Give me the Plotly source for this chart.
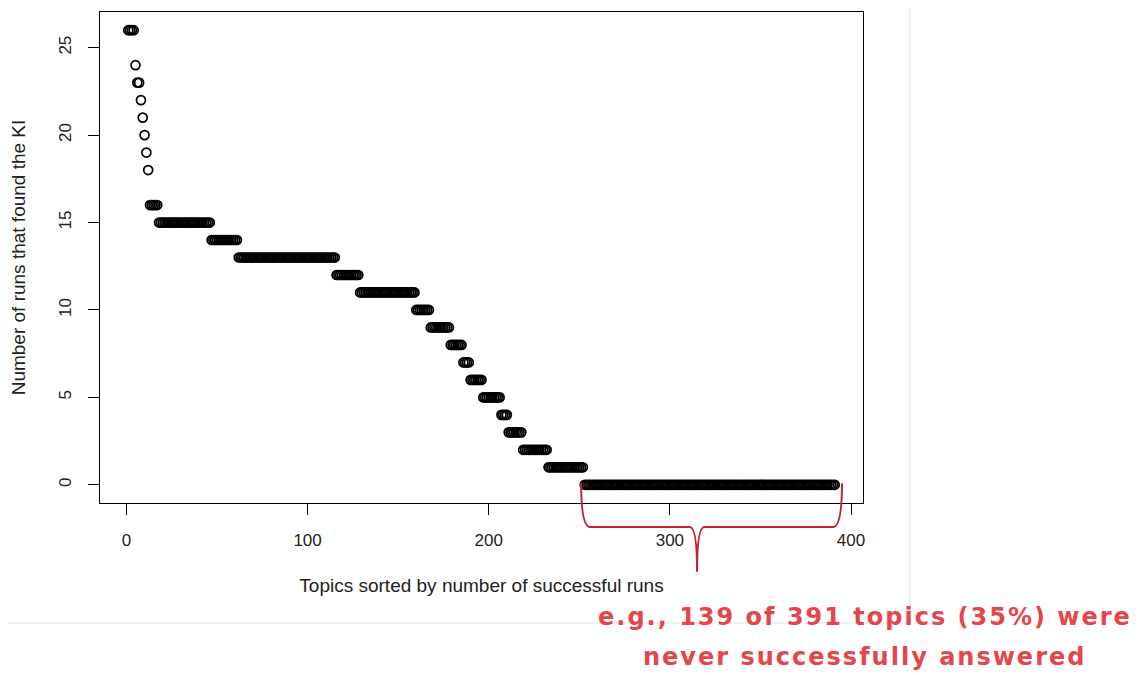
import numpy as np
import plotly.graph_objects as go

# Number of runs that found the KI (levels) and how many topics have each level
levels = [26, 24, 23, 22, 21, 20, 19, 18, 16, 15, 14, 13, 12, 11, 10, 9, 8, 7, 6, 5, 4, 3, 2, 1, 0]
counts = [4, 1, 2, 1, 1, 1, 1, 1, 5, 29, 15, 54, 13, 31, 8, 11, 7, 4, 7, 10, 4, 8, 14, 20, 139]

x_ticks = [0, 100, 200, 300, 400]
y_ticks = [0, 5, 10, 15, 20, 25]

runs = np.repeat(levels, counts)
topics = np.arange(1, len(runs) + 1)

x_title = "Topics sorted by number of successful runs"
y_title = "Number of runs that found the KI"
note_lines = ["e.g., 139 of 391 topics (35%) were", "never successfully answered"]

fig = go.Figure()
fig.add_trace(go.Scatter(
    x=topics, y=runs, mode="markers",
    marker=dict(symbol="circle-open", size=9, color="black", line=dict(width=1.7, color="black")),
    showlegend=False, cliponaxis=False,
))

axis_common = dict(
    showgrid=False, zeroline=False, showline=True, mirror=True,
    linecolor="black", linewidth=1, ticks="outside", ticklen=11,
    tickcolor="black", tickwidth=1, automargin=False,
    tickfont=dict(family="Liberation Sans, Arial", size=17, color="#222"),
)

n = len(runs)
pad_x = 0.04 * (n - 1)
pad_y = 0.04 * (max(levels) - min(levels))

fig.update_xaxes(
    range=[1 - pad_x, n + pad_x], tickvals=x_ticks, ticklabelstandoff=11,
    title=dict(text=x_title, font=dict(family="Liberation Sans, Arial", size=19, color="#222"), standoff=29),
    **axis_common,
)
fig.update_yaxes(
    range=[min(levels) - pad_y, max(levels) + pad_y], tickvals=y_ticks, tickangle=-90,
    ticklabelstandoff=10,
    title=dict(text=y_title, font=dict(family="Liberation Sans, Arial", size=19, color="#222"), standoff=25),
    **axis_common,
)

# curly brace under the never-answered topics (x in data units, y in paper units)
zero_start = n - counts[-1] + 1
zero_end = n
xl, xr = zero_start - 2, zero_end + 4
xm = (xl + xr) / 2 - 8
yt, ym, yb = 0.04, -0.049, -0.14
brace = (f"M {xl},{yt} Q {xl},{ym} {xl+5},{ym} L {xm-4},{ym} "
         f"Q {xm},{ym} {xm},{yb} Q {xm},{ym} {xm+4},{ym} "
         f"L {xr-5},{ym} Q {xr},{ym} {xr},{yt}")
fig.add_shape(type="path", path=brace, xref="x", yref="paper",
              line=dict(color="#C0262C", width=2))

# faint frame of the embedded chart picture
fig.add_shape(type="line", xref="paper", yref="paper", x0=1.0616, x1=1.0616, y0=1.03, y1=-0.2444,
              line=dict(color="#e6e6e6", width=1.5))
fig.add_shape(type="line", xref="paper", yref="paper", x0=-0.122, x1=1.0616, y0=-0.2444, y1=-0.2444,
              line=dict(color="#eeeeee", width=1.5))
fig.add_shape(type="line", xref="paper", yref="paper", x0=-0.122, x1=-0.122, y0=1.03, y1=-0.2444,
              line=dict(color="#f3f3f3", width=1.5))

for line_text, ypos in zip(note_lines, [-0.2322, -0.3136]):
    fig.add_annotation(
        text=f'<span style="letter-spacing:2px">{line_text}</span>',
        xref="paper", yref="paper", x=1.0026, y=ypos,
        xanchor="center", yanchor="middle", showarrow=False, align="center",
        font=dict(family="DejaVu Sans", size=24, color="#E5464C", weight="bold"),
    )

# page body adds an 8px offset, so the figure is sized 8px smaller
fig.update_layout(
    width=1135, height=667,
    margin=dict(l=92, r=280, t=4, b=172),
    paper_bgcolor="white", plot_bgcolor="white",
)

fig.write_html("out.html")
